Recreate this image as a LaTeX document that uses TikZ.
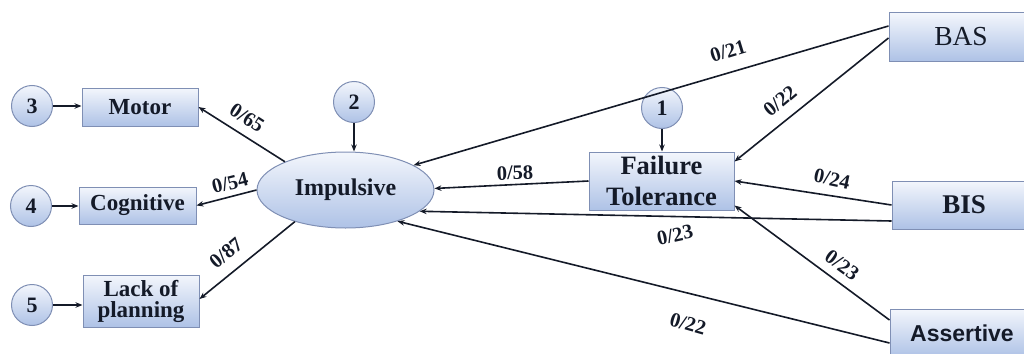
\documentclass[tikz,border=0pt]{standalone}
\usepackage{fontspec}
\setmainfont{Liberation Serif}
\newfontfamily\arialf{Liberation Sans}
\usetikzlibrary{arrows.meta,shapes.geometric,calc}
\definecolor{bordc}{HTML}{7F8FB4}
\definecolor{topc}{HTML}{F3F6FC}
\definecolor{botc}{HTML}{AEC2E6}
\definecolor{inkc}{HTML}{141A28}
\begin{document}
\begin{tikzpicture}[x=1pt,y=-1pt,
  boxn/.style={draw=bordc, line width=1pt, top color=topc, bottom color=botc,
    inner sep=0pt, text=inkc, align=center, font=\bfseries\fontsize{23}{21}\selectfont},
  errn/.style={circle, draw=bordc, line width=1pt, top color=topc, bottom color=botc,
    minimum size=41pt, inner sep=0pt, text=inkc, font=\bfseries\fontsize{22}{22}\selectfont},
  arr/.style={-{Stealth[length=7pt,width=5.5pt]}, line width=1.6pt, draw=inkc},
  lbl/.style={font=\bfseries\fontsize{20.5}{20.5}\selectfont, inner sep=1pt, text=inkc}]
\useasboundingbox (0,0) rectangle (1024,353);
% boxes
\node[boxn, minimum width=116pt, minimum height=38pt] (mot) at (140,107) {Motor};
\node[boxn, minimum width=117pt, minimum height=37pt] (cog) at (137.5,205.5) {Cognitive};
\node[boxn, minimum width=116pt, minimum height=52pt] (lack) at (141,301) {Lack of\\planning};
\node[boxn, minimum width=145pt, minimum height=58pt, font=\bfseries\fontsize{26.5}{31}\selectfont] (ft) at (661.5,181) {Failure\\Tolerance};
\node[boxn, minimum width=144pt, minimum height=48pt, font=\fontsize{27.5}{28}\selectfont] (bas) at (961,37) {BAS};
\node[boxn, minimum width=144pt, minimum height=48pt, font=\bfseries\fontsize{27}{28}\selectfont] (bis) at (964,205) {BIS};
\node[boxn, minimum width=144pt, minimum height=48pt, font=\arialf\bfseries\fontsize{23}{24}\selectfont] (ass) at (962,333) {Assertive};
\node[ellipse, draw=bordc, line width=1pt, top color=topc, bottom color=botc,
  minimum width=177pt, minimum height=76pt, inner sep=0pt, text=inkc,
  font=\bfseries\fontsize{24}{24}\selectfont] (imp) at (345.5,190) {Impulsive};
% error terms
\node[errn] (e1) at (662,108) {1};
\node[errn] (e2) at (354,102) {2};
\node[errn] (e3) at (32,106) {3};
\node[errn] (e4) at (31,206) {4};
\node[errn] (e5) at (32,305) {5};
% error arrows
\draw[arr] (e3) -- (mot.west |- e3);
\draw[arr] (e4) -- (cog.west |- e4);
\draw[arr] (e5) -- (lack.west |- e5);
\draw[arr] (e2) -- (e2 |- imp.north);
\draw[arr] (e1) -- (e1 |- ft.north);
% impulsive to indicators
\draw[arr] (imp.155) -- (mot.east);
\node[lbl, rotate=-33] (l65) at (247,118) {0/65};
\draw[arr] (imp.west) -- (cog.east);
\node[lbl, rotate=14] (l54) at (230,183) {0/54};
\draw[arr] (imp.212) -- ($(lack.east)+(0,-2)$);
\node[lbl, rotate=40] (l87) at (226,253) {0/87};
% structural paths
\draw[arr] ($(bas.west)+(0,-11)$) -- (imp.20);
\node[lbl, rotate=17] (l21) at (728,51) {0/21};
\draw[arr] ($(bas.west)+(0,1)$) -- ($(ft.north east)+(0,10)$);
\node[lbl, rotate=40] (l22a) at (780,101) {0/22};
\draw[arr] (ft.west) -- (imp.1);
\node[lbl, rotate=2] (l58) at (515,173) {0/58};
\draw[arr] (bis.west) -- (ft.east);
\node[lbl, rotate=-12] (l24) at (832,179) {0/24};
\draw[arr] ($(bis.west)+(0,16)$) -- (imp.344);
\node[lbl, rotate=12] (l23a) at (675,235) {0/23};
\draw[arr] ($(ass.west)+(0,-13)$) -- ($(ft.south east)+(0,-5)$);
\node[lbl, rotate=-36] (l23b) at (842,265) {0/23};
\draw[arr] ($(ass.west)+(0,10)$) -- (imp.329);
\node[lbl, rotate=-16] (l22b) at (688,324) {0/22};
\end{tikzpicture}
\end{document}
